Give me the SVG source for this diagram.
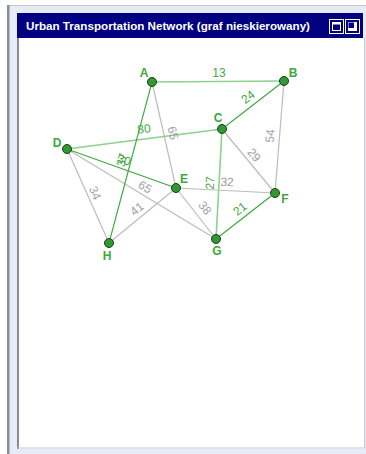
<svg xmlns="http://www.w3.org/2000/svg" width="366" height="454" viewBox="0 0 366 454">
<style>
.eg{stroke:#bcbcbc;stroke-width:1.2;fill:none}
.el{stroke:#8ed08e;stroke-width:1.6;fill:none}
.ed{stroke:#3aa83a;stroke-width:1.1;fill:none}
.lg{font-family:"Liberation Sans",Arial,sans-serif;font-size:12px;fill:#a0a0aa;text-anchor:middle;dominant-baseline:central}
.lgr{font-family:"Liberation Sans",Arial,sans-serif;font-size:12px;fill:#44a844;text-anchor:middle;dominant-baseline:central}
.nl{font-family:"Liberation Sans",Arial,sans-serif;font-size:12px;font-weight:bold;fill:#3aaa3a;text-anchor:middle;dominant-baseline:central}
.nd{fill:#329832;stroke:#1e3a1e;stroke-width:1}
</style>
<rect x="0" y="0" width="366" height="454" fill="#ffffff"/>
<g id="frame">
<rect x="9" y="5" width="357" height="449" fill="#e6ebf5"/>
<rect x="9" y="5" width="357" height="1" fill="#c8c8c8"/>
<rect x="7" y="5" width="2.5" height="449" fill="#8c8c8c"/>
<rect x="17" y="13" width="346" height="25" fill="#000080"/>
<text x="26" y="29.5" font-family="Liberation Sans,Arial,sans-serif" font-size="11.5" font-weight="bold" fill="#ffffff" textLength="284" lengthAdjust="spacingAndGlyphs">Urban Transportation Network (graf nieskierowany)</text>
<rect x="329.5" y="19.5" width="14" height="14" fill="#000080" stroke="#ffffff" stroke-width="1"/>
<rect x="332.5" y="22.5" width="8" height="8" fill="none" stroke="#ffffff" stroke-width="1"/>
<rect x="332" y="22" width="9" height="2.5" fill="#ffffff"/>
<rect x="345.5" y="19.5" width="14" height="14" fill="#000080" stroke="#ffffff" stroke-width="1"/>
<rect x="348" y="22" width="9" height="9" fill="#ffffff"/>
<rect x="348.5" y="22.5" width="5.5" height="5.5" fill="#000080"/>
<rect x="17" y="38" width="348" height="411" fill="#ffffff"/>
<rect x="17" y="38" width="2" height="411" fill="#8c8c8c"/>
<rect x="17" y="447.5" width="348" height="1" fill="#c8c8c8"/>
<rect x="364" y="38" width="1" height="410" fill="#c8c8c8"/>
</g>
<g id="connectors">
<line class="eg" x1="152" y1="82" x2="176" y2="188"/>
<line class="eg" x1="284" y1="81" x2="275" y2="193"/>
<line class="eg" x1="222" y1="129" x2="275" y2="193"/>
<line class="eg" x1="67" y1="149" x2="109" y2="243"/>
<line class="eg" x1="67" y1="149" x2="216" y2="239"/>
<line class="eg" x1="109" y1="243" x2="176" y2="188"/>
<line class="eg" x1="176" y1="188" x2="216" y2="239"/>
<line class="eg" x1="176" y1="188" x2="275" y2="193"/>
<line class="el" x1="152" y1="82" x2="284" y2="81"/>
<line class="el" x1="67" y1="149" x2="222" y2="129"/>
<line class="el" x1="222" y1="129" x2="216" y2="239"/>
<line class="ed" x1="284" y1="81" x2="222" y2="129"/>
<line class="ed" x1="152" y1="82" x2="109" y2="243"/>
<line class="ed" x1="67" y1="149" x2="176" y2="188"/>
<line class="ed" x1="216" y1="239" x2="275" y2="193"/>
<text class="lg" transform="translate(173,133) rotate(77)">65</text>
<text class="lg" transform="translate(270,136) rotate(-85)">54</text>
<text class="lg" transform="translate(254,155) rotate(50)">29</text>
<text class="lg" transform="translate(95,193) rotate(66)">34</text>
<text class="lg" transform="translate(145,187) rotate(31)">65</text>
<text class="lg" transform="translate(137,209) rotate(-39)">41</text>
<text class="lg" transform="translate(205,208) rotate(52)">38</text>
<text class="lg" transform="translate(227,182) rotate(3)">32</text>
<text class="lgr" transform="translate(219,73)">13</text>
<text class="lgr" transform="translate(144,129) rotate(-7)">80</text>
<text class="lgr" transform="translate(210,183) rotate(-87)">27</text>
<text class="lgr" transform="translate(240,209) rotate(-39)">21</text>
<text class="lgr" transform="translate(248,97) rotate(-38)">24</text>
<text class="lgr" transform="translate(124,160) rotate(20)">30</text>
<text class="lgr" transform="translate(122,160) rotate(-75)">37</text>
</g>
<g id="node-A"><circle class="nd" cx="152" cy="82" r="4.5"/><text class="nl" x="144" y="73">A</text></g>
<g id="node-B"><circle class="nd" cx="284" cy="81" r="4.5"/><text class="nl" x="293" y="73">B</text></g>
<g id="node-C"><circle class="nd" cx="222" cy="129" r="4.5"/><text class="nl" x="218" y="118">C</text></g>
<g id="node-D"><circle class="nd" cx="67" cy="149" r="4.5"/><text class="nl" x="57" y="143">D</text></g>
<g id="node-E"><circle class="nd" cx="176" cy="188" r="4.5"/><text class="nl" x="184" y="179">E</text></g>
<g id="node-F"><circle class="nd" cx="275" cy="193" r="4.5"/><text class="nl" x="285" y="199">F</text></g>
<g id="node-G"><circle class="nd" cx="216" cy="239" r="4.5"/><text class="nl" x="217" y="251">G</text></g>
<g id="node-H"><circle class="nd" cx="109" cy="243" r="4.5"/><text class="nl" x="107" y="256">H</text></g>
</svg>
